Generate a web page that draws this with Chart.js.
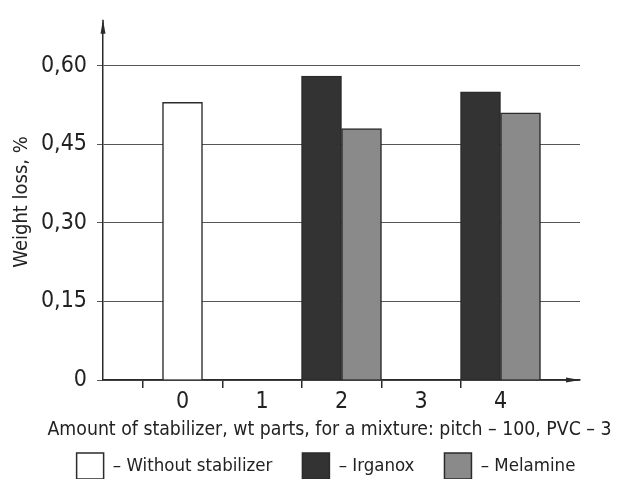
<!DOCTYPE html>
<html>
<head>
<meta charset="utf-8">
<script src="https://cdn.jsdelivr.net/npm/chart.js@4/dist/chart.umd.min.js"></script>
<style>
  html, body { margin: 0; padding: 0; background: #fff; overflow: hidden; }
  #grafico { display: block; }
</style>
</head>
<body>
<canvas id="grafico" width="619" height="489"></canvas>
<script>
// Dados
const quantidades = [0, 1, 2, 3, 4];
const semEstabilizador = [0.53, null, null, null, null];
const irganox = [null, null, 0.58, null, 0.55];
const melamina = [null, null, 0.48, null, 0.51];
const rotulosY = [0, 0.15, 0.30, 0.45, 0.60];
const tituloX = 'Amount of stabilizer, wt parts, for a mixture: pitch – 100, PVC – 3';

const fonte = "'Liberation Sans Narrow', 'DejaVu Sans Condensed', sans-serif";
const corTexto = '#222';
const corLinha = '#2b2b2b';

function pontos(valores) {
    return quantidades.map((q, i) => ({ x: q, y: valores[i] }));
}

// Setas nas pontas dos eixos + título do eixo X (mais largo que o eixo)
const extras = {
    id: 'extras',
    afterDraw(chart) {
        const { ctx, chartArea } = chart;
        ctx.save();
        ctx.fillStyle = corLinha;
        ctx.strokeStyle = corLinha;
        ctx.lineWidth = 1.5;
        // eixo Y
        ctx.beginPath();
        ctx.moveTo(chartArea.left, chartArea.top);
        ctx.lineTo(chartArea.left, chartArea.top - 4);
        ctx.stroke();
        ctx.beginPath();
        ctx.moveTo(chartArea.left, chartArea.top - 4);
        ctx.lineTo(chartArea.left - 2.5, chartArea.top + 10);
        ctx.lineTo(chartArea.left + 2.5, chartArea.top + 10);
        ctx.closePath();
        ctx.fill();
        // eixo X
        ctx.beginPath();
        ctx.moveTo(chartArea.right, chartArea.bottom);
        ctx.lineTo(chartArea.right - 14, chartArea.bottom - 2.5);
        ctx.lineTo(chartArea.right - 14, chartArea.bottom + 2.5);
        ctx.closePath();
        ctx.fill();
        // título X
        ctx.fillStyle = corTexto;
        ctx.font = '19.3px ' + fonte;
        ctx.textAlign = 'center';
        ctx.textBaseline = 'middle';
        ctx.fillText(tituloX, chart.width / 2 + 20, chartArea.bottom + 50);
        ctx.restore();
    }
};

const ctx = document.getElementById('grafico').getContext('2d');

const grafico = new Chart(ctx, {
    type: 'bar',
    data: {
        datasets: [
            {
                label: 'Without stabilizer',
                data: pontos(semEstabilizador),
                backgroundColor: '#ffffff',
                borderColor: corLinha,
                borderWidth: 1.5
            },
            {
                label: 'Irganox',
                data: pontos(irganox),
                backgroundColor: '#333333',
                borderColor: corLinha,
                borderWidth: 1.5
            },
            {
                label: 'Melamine',
                data: pontos(melamina),
                backgroundColor: '#8a8a8a',
                borderColor: corLinha,
                borderWidth: 1.5
            }
        ]
    },
    options: {
        responsive: false,
        animation: false,
        skipNull: true,
        barThickness: 40,
        layout: { padding: { left: 33, right: 0, top: 21, bottom: 0 } },
        plugins: {
            tooltip: { enabled: false },
            legend: {
                position: 'bottom',
                labels: {
                    color: corTexto,
                    font: { family: fonte, size: 18.5 },
                    boxWidth: 27,
                    boxHeight: 26,
                    padding: 30,
                    generateLabels(chart) {
                        return chart.data.datasets.map((ds, i) => ({
                            text: '– ' + ds.label,
                            fillStyle: ds.backgroundColor,
                            strokeStyle: ds.borderColor,
                            lineWidth: 1.5,
                            fontColor: corTexto,
                            datasetIndex: i,
                            hidden: false
                        }));
                    }
                }
            }
        },
        scales: {
            x: {
                type: 'linear',
                min: -1,
                max: 5,
                offset: false,
                afterFit: s => { s.height = 43; },
                ticks: {
                    stepSize: 1,
                    color: corTexto,
                    font: { family: fonte, size: 23 },
                    padding: 0,
                    callback: v => (quantidades.includes(v) ? String(v) : '')
                },
                grid: {
                    drawOnChartArea: false,
                    drawTicks: true,
                    tickLength: 8,
                    lineWidth: 1.5,
                    color: c => (c.tick && quantidades.includes(c.tick.value) ? corLinha : 'rgba(0,0,0,0)')
                },
                border: { color: corLinha, width: 1.5 }
            },
            y: {
                min: 0,
                max: 0.68,
                afterBuildTicks: s => {
                    s.ticks = rotulosY.map(v => ({ value: v }));
                },
                afterFit: s => { s.width = 70; },
                ticks: {
                    color: corTexto,
                    font: { family: fonte, size: 23 },
                    padding: 10,
                    callback: v => (v === 0 ? '0' : v.toFixed(2).replace('.', ','))
                },
                grid: {
                    color: '#555',
                    lineWidth: 1,
                    tickLength: 6
                },
                border: { color: corLinha, width: 1.5 },
                title: {
                    display: true,
                    text: 'Weight loss, %',
                    color: corTexto,
                    font: { family: fonte, size: 20 },
                    padding: { top: -23, bottom: 0 }
                }
            },
            // eixo vazio à direita, só para reservar a margem
            margem: {
                type: 'linear',
                position: 'right',
                afterFit: s => { s.width = 39; },
                ticks: { display: false },
                grid: { display: false },
                border: { display: false }
            }
        }
    },
    plugins: [extras]
});
</script>
</body>
</html>
